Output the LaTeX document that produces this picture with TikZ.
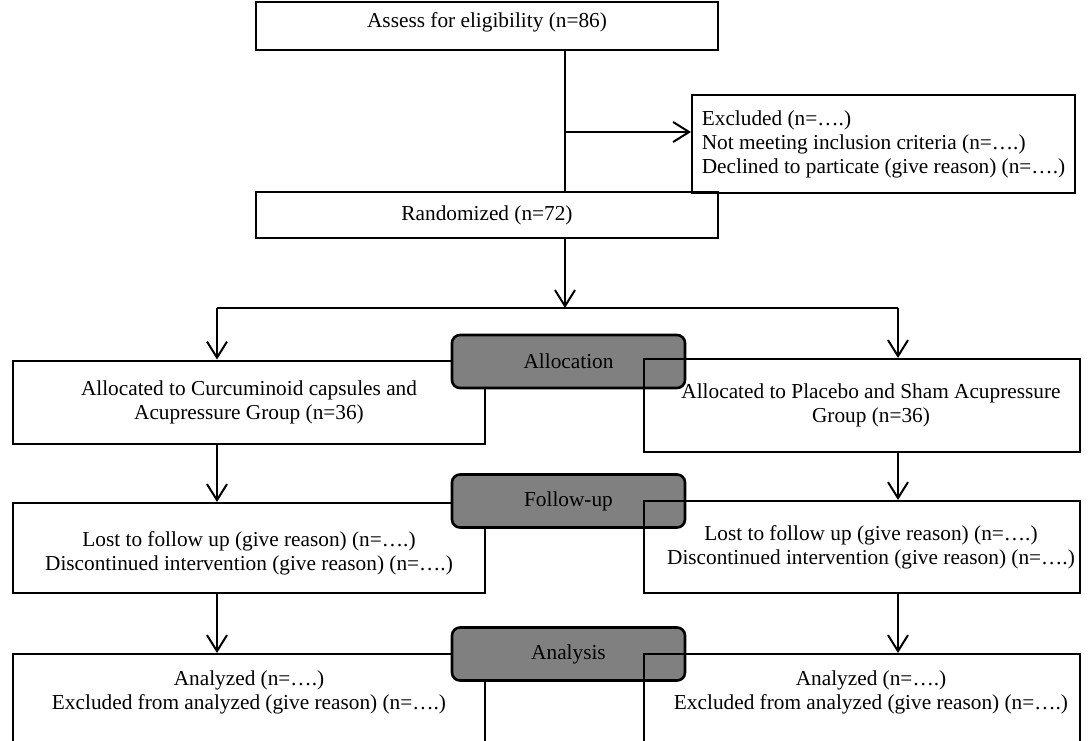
\documentclass[tikz,border=0pt]{standalone}
\usepackage{fontspec}
\setmainfont{Liberation Serif}
\usetikzlibrary{arrows.meta,positioning}
\definecolor{stagegray}{HTML}{808080}

\begin{document}
\begin{tikzpicture}[x=0.5pt, y=-0.5pt,
    box/.style={draw, line width=1pt, inner sep=0pt, align=center, font=\fontsize{10.65}{12}\selectfont},
    txt/.style={inner sep=0pt, align=center, font=\fontsize{10.65}{12}\selectfont},
    stage/.style={draw, line width=1.3pt, rounded corners=4pt, fill=stagegray, minimum width=116.5pt, minimum height=26.5pt, font=\fontsize{10.65}{12}\selectfont},
    arr/.style={-{Straight Barb[length=8pt,width=10pt]}, line width=1pt},
    link/.style={line width=1pt}
]
\useasboundingbox (0,0) rectangle (1088,740);
\clip (0,0) rectangle (1088,740);

% enrolment
\node[box, minimum width=231pt, minimum height=24pt] (elig) at (487,26) {};
\node[txt] (eligt) at ([yshift=2pt]elig.center) {Assess for eligibility (n=86)};
\node[box, minimum width=191.5pt, minimum height=49pt, align=left] (excl) at (883.5,144) {Excluded (n=….)\\Not meeting inclusion criteria (n=….)\\Declined to particate (give reason) (n=….)};
\node[box, minimum width=231pt, minimum height=23pt] (rand) at (487,215) {Randomized (n=72)};

% left arm (under the stage labels)
\node[box, fill=white, minimum width=236pt, minimum height=41.5pt] (alocL) at (249,402) {Allocated to Curcuminoid capsules and\\Acupressure Group (n=36)};
\node[box, fill=white, minimum width=236pt, minimum height=45pt] (folL) at (249,548) {};
\node[txt] (folLt) at ([yshift=-2.5pt]folL.center) {Lost to follow up (give reason) (n=….)\\Discontinued intervention (give reason) (n=….)};
\node[box, fill=white, minimum width=236pt, minimum height=63pt] (anaL) at (249,717) {};
\node[txt, below=8.5pt of anaL.north] (anaLt) {Analyzed (n=….)\\Excluded from analyzed (give reason) (n=….)};

% stage labels
\node[stage] (sAlloc) at (568.5,361.5) {Allocation};
\node[stage] (sFollow) at (568.5,501) {Follow-up};
\node[stage] (sAnaly) at (568.5,654) {Analysis};

% right arm (over the stage labels)
\node[box, minimum width=218pt, minimum height=46.5pt] (alocR) at (862,405.5) {};
\node[txt] (alocRt) at ([xshift=4.5pt]alocR.center) {Allocated to Placebo and Sham Acupressure\\Group (n=36)};
\node[box, minimum width=218pt, minimum height=46pt] (folR) at (862,547) {};
\node[txt] (folRt) at ([xshift=4.5pt]folR.center) {Lost to follow up (give reason) (n=….)\\Discontinued intervention (give reason) (n=….)};
\node[box, minimum width=218pt, minimum height=63pt] (anaR) at (862,717) {};
\node[txt, below=8.5pt of anaR.north, xshift=4.5pt] (anaRt) {Analyzed (n=….)\\Excluded from analyzed (give reason) (n=….)};

% connectors
\coordinate (trunk) at (565,132);
\coordinate (fork) at (565,308);
\coordinate (forkL) at (217,308);
\coordinate (forkR) at (898,308);
\draw[link] (elig.south -| trunk) -- (rand.north -| trunk);
\draw[arr] (trunk) -- (trunk -| excl.west);
\draw[arr] (rand.south -| fork) -- (fork);
\draw[link] (forkL) -- (forkR);
\draw[arr] (forkL) -- (forkL |- alocL.north);
\draw[arr] (forkR) -- (forkR |- alocR.north);
\draw[arr] (alocL.south -| forkL) -- (forkL |- folL.north);
\draw[arr] (alocR.south -| forkR) -- (forkR |- folR.north);
\draw[arr] (folL.south -| forkL) -- (forkL |- anaL.north);
\draw[arr] (folR.south -| forkR) -- (forkR |- anaR.north);
\end{tikzpicture}
\end{document}
